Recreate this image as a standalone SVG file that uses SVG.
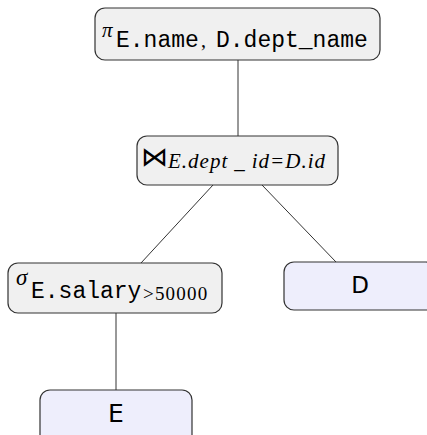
<svg xmlns="http://www.w3.org/2000/svg" width="427" height="435" viewBox="0 0 427 435">
  <style>
    .op { fill: #f0f0f0; stroke: #333; stroke-width: 1.2; }
    .rel { fill: #eeeefc; stroke: #333; stroke-width: 1.2; }
    .edge { stroke: #333; stroke-width: 1; fill: none; }
    .mono { font-family: "Liberation Mono", "DejaVu Sans Mono", monospace; fill: #000; }
    .math { font-family: "Liberation Serif", "DejaVu Serif", serif; font-style: italic; fill: #000; }
    .roman { font-family: "Liberation Serif", "DejaVu Serif", serif; fill: #000; }
    .sans { font-family: "DejaVu Sans", "Liberation Sans", sans-serif; fill: #000; }
  </style>

  <!-- tree edges -->
  <g id="edges">
    <line class="edge" x1="238" y1="60" x2="238" y2="136"/>
    <line class="edge" x1="213" y1="185" x2="141" y2="263"/>
    <line class="edge" x1="262" y1="185" x2="336" y2="262"/>
    <line class="edge" x1="116" y1="313" x2="116" y2="390"/>
  </g>

  <!-- projection -->
  <g id="project">
    <rect class="op" x="95" y="8" width="285" height="52" rx="10"/>
    <text class="math" x="102" y="37" font-size="21">π</text>
    <text class="mono" x="116" y="47" font-size="23">E.name</text>
    <text class="roman" x="201" y="47" font-size="20">,</text>
    <text class="mono" x="216" y="47" font-size="23">D.dept_name</text>
  </g>

  <!-- join -->
  <g id="join">
    <rect class="op" x="137" y="136" width="201" height="49" rx="10"/>
    <text class="roman" x="141" y="166" font-size="27">⋈</text>
    <text class="math" x="168" y="168" font-size="21" letter-spacing="1">E.dept<tspan dx="6">_</tspan><tspan dx="6">id=D.id</tspan></text>
  </g>

  <!-- selection -->
  <g id="select">
    <rect class="op" x="8" y="263" width="214" height="50" rx="10"/>
    <text class="math" x="16" y="285" font-size="23">σ</text>
    <text class="mono" x="31" y="298" font-size="23">E.salary</text>
    <text class="roman" x="143" y="300" font-size="19" letter-spacing="1.2">&gt;50000</text>
  </g>

  <!-- base relations -->
  <g id="rel-D">
    <rect class="rel" x="284" y="262" width="152" height="48" rx="10"/>
    <text class="sans" x="360" y="293" font-size="23" text-anchor="middle">D</text>
  </g>
  <g id="rel-E">
    <rect class="rel" x="40" y="390" width="152" height="56" rx="10"/>
    <text class="sans" x="116" y="422" font-size="25" text-anchor="middle">E</text>
  </g>
</svg>
